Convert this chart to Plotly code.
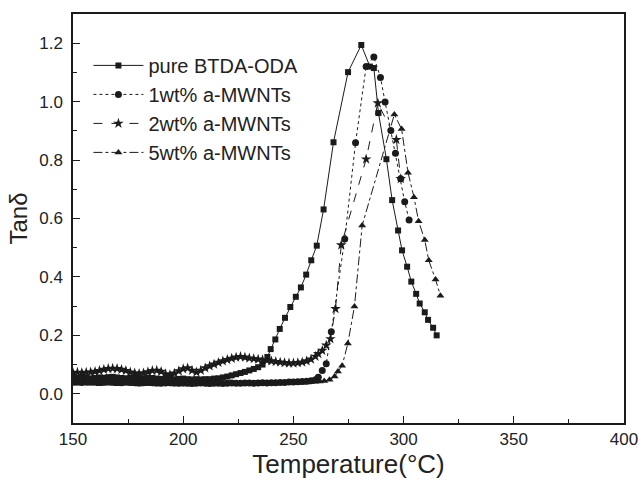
import plotly.graph_objects as go

# ---------------- data ----------------
# pure BTDA-ODA (squares)
pure_T = [150,152,154,156,158,160,162,164,166,168,170,172,174,176,178,180,182,184,186,188,
          190,192,194,196,198,200,202,204,206,208,210,212,214,216,218,220,222,224,226,228,
          230,232,234,236,
          238.2,239.7,241.8,243.8,246.2,248.6,251.1,253.4,255.8,258.1,260.6,263.7,268.2,274.8,
          280.8,284.7,286.5,288.6,292.2,294.8,297.5,299.3,301.6,303.5,305.7,307.3,309.6,311.1,
          313.4,315.0]
pure_V = [0.055,0.054,0.056,0.055,0.053,0.054,0.056,0.055,0.057,0.058,0.056,0.054,0.053,0.055,0.054,0.052,0.053,0.055,0.054,0.052,
          0.051,0.053,0.052,0.050,0.051,0.052,0.050,0.049,0.050,0.049,0.050,0.050,0.052,0.053,0.056,0.059,0.063,0.067,0.071,0.075,
          0.080,0.085,0.091,0.100,
          0.126,0.153,0.186,0.222,0.260,0.297,0.332,0.364,0.408,0.457,0.507,0.631,0.861,1.101,
          1.194,1.120,1.115,0.961,0.803,0.663,0.559,0.491,0.435,0.384,0.342,0.309,0.279,0.253,
          0.226,0.200]

# 1wt% a-MWNTs (circles)
c1_T = [150,152,154,156,158,160,162,164,166,168,170,172,174,176,178,180,182,184,186,188,
        190,192,194,196,198,200,202,204,206,208,210,212,214,216,218,220,222,224,226,228,
        230,232,234,236,238,240,242,244,246,248,250,252,254,256,258,260,
        261.3,263.1,264.9,267.2,273.3,278.2,283.0,286.5,289.5,291.6,294.2,296.3,298.7,300.5,302.5]
c1_V = [0.040,0.041,0.039,0.040,0.041,0.040,0.039,0.040,0.041,0.040,0.039,0.038,0.040,0.039,0.038,0.037,0.038,0.039,0.038,0.037,
        0.036,0.037,0.038,0.037,0.036,0.037,0.036,0.035,0.036,0.037,0.036,0.035,0.036,0.036,0.035,0.036,0.037,0.036,0.036,0.037,
        0.037,0.036,0.037,0.038,0.037,0.038,0.038,0.039,0.039,0.040,0.040,0.041,0.042,0.043,0.045,0.048,
        0.057,0.080,0.103,0.212,0.530,0.859,1.120,1.153,1.083,0.999,0.901,0.823,0.736,0.657,0.595]

# 2wt% a-MWNTs (stars)
c2_T = [150,152,154,156,158,160,162,164,166,168,170,172,174,176,178,180,182,184,186,188,
        190,192,194,196,198,200,202,204,206,208,210,212,214,216,218,220,222,224,226,228,
        230,232,234,236,238,240,242,244,246,248,250,252,254,256,258,260,
        261.3,263.1,264.9,266.8,269.1,271.7,283.0,288.3,296.7,298.7]
c2_V = [0.072,0.073,0.072,0.073,0.074,0.076,0.079,0.083,0.086,0.087,0.086,0.083,0.079,0.074,0.071,0.069,0.071,0.075,0.079,0.080,
        0.076,0.068,0.065,0.070,0.078,0.085,0.088,0.080,0.074,0.080,0.088,0.095,0.101,0.107,0.112,0.117,0.121,0.125,0.127,0.125,
        0.122,0.120,0.118,0.116,0.114,0.112,0.110,0.108,0.106,0.105,0.105,0.106,0.108,0.112,0.118,0.128,
        0.137,0.148,0.166,0.188,0.291,0.509,0.803,0.995,0.870,0.736]

# 5wt% a-MWNTs (triangles)
c5_T = [150,152,154,156,158,160,162,164,166,168,170,172,174,176,178,180,182,184,186,188,
        190,192,194,196,198,200,202,204,206,208,210,212,214,216,218,220,222,224,226,228,
        230,232,234,236,238,240,242,244,246,248,250,252,254,256,258,260,262,264,
        266.4,268.7,270.2,272.1,274.7,277.7,281.2,295.8,299.1,302.0,304.7,306.8,309.6,311.4,
        314.5,316.7]
c5_V = [0.035,0.034,0.036,0.035,0.034,0.035,0.033,0.034,0.035,0.034,0.033,0.034,0.035,0.034,0.033,0.032,0.033,0.034,0.033,0.032,
        0.033,0.034,0.033,0.032,0.033,0.032,0.033,0.032,0.033,0.034,0.033,0.032,0.033,0.034,0.033,0.034,0.033,0.034,0.035,0.034,
        0.035,0.034,0.035,0.035,0.036,0.035,0.036,0.036,0.037,0.037,0.038,0.038,0.039,0.039,0.040,0.041,0.042,0.044,
        0.048,0.059,0.076,0.096,0.172,0.299,0.576,0.956,0.906,0.757,0.673,0.591,0.526,0.457,
        0.391,0.336]

names = ["pure BTDA-ODA", "1wt% a-MWNTs", "2wt% a-MWNTs", "5wt% a-MWNTs"]

x_ticks = [150, 200, 250, 300, 350, 400]
y_ticks = [0.0, 0.2, 0.4, 0.6, 0.8, 1.0, 1.2]

# ---------------- figure ----------------
INK = "#1b1b1b"
TXT = "#222222"
FONT = "Liberation Sans, Arial, sans-serif"

series = [
    (pure_T, pure_V, names[0], "square", "solid", 6),
    (c1_T, c1_V, names[1], "circle", "dot", 7),
    (c2_T, c2_V, names[2], "star", "dash", 8),
    (c5_T, c5_V, names[3], "triangle-up", "dashdot", 7),
]

fig = go.Figure()
for T, V, nm, sym, dash, ms in series:
    fig.add_trace(go.Scatter(
        x=T, y=V, name=nm, mode="lines+markers",
        line=dict(color=INK, width=1, dash=dash),
        marker=dict(symbol=sym, size=ms, color=INK, line=dict(width=0)),
    ))

axis_common = dict(
    showgrid=False, zeroline=False, showline=True, linecolor=INK, linewidth=1.5,
    mirror=True, ticks="inside", ticklen=7, tickwidth=1.2, tickcolor=INK,
    tickfont=dict(family=FONT, size=17, color=TXT), automargin=False,
    ticklabeloverflow="allow",
)

fig.update_xaxes(
    range=[150, 400], tickvals=x_ticks, ticktext=[str(v) for v in x_ticks],
    minor=dict(dtick=25, ticks="inside", ticklen=4, tickwidth=1.2, tickcolor=INK),
    title=dict(text="Temperature(°C)", font=dict(family=FONT, size=26, color=TXT), standoff=5),
    **axis_common,
)
fig.update_yaxes(
    range=[-0.1, 1.3], tickvals=y_ticks, ticktext=[f"{v:.1f}" for v in y_ticks],
    minor=dict(dtick=0.1, ticks="inside", ticklen=4, tickwidth=1.2, tickcolor=INK),
    title=dict(text="Tanδ", font=dict(family=FONT, size=24, color=TXT), standoff=5),
    ticklabelstandoff=5,
    **axis_common,
)

fig.update_layout(
    width=638, height=480,
    margin=dict(l=73, r=14, t=14, b=57),
    paper_bgcolor="white", plot_bgcolor="white",
    showlegend=True,
    legend=dict(
        x=0.028, y=0.922, xanchor="left", yanchor="top",
        font=dict(family=FONT, size=20, color=TXT),
        itemwidth=50,
        bgcolor="rgba(0,0,0,0)", borderwidth=0,
    ),
)

# remove the browser's default 8 px body margin so the figure fills the window exactly
fig.write_html("out.html",
               config={"displayModeBar": False},
               post_script="document.body.style.margin='0';document.body.style.overflow='hidden';")
